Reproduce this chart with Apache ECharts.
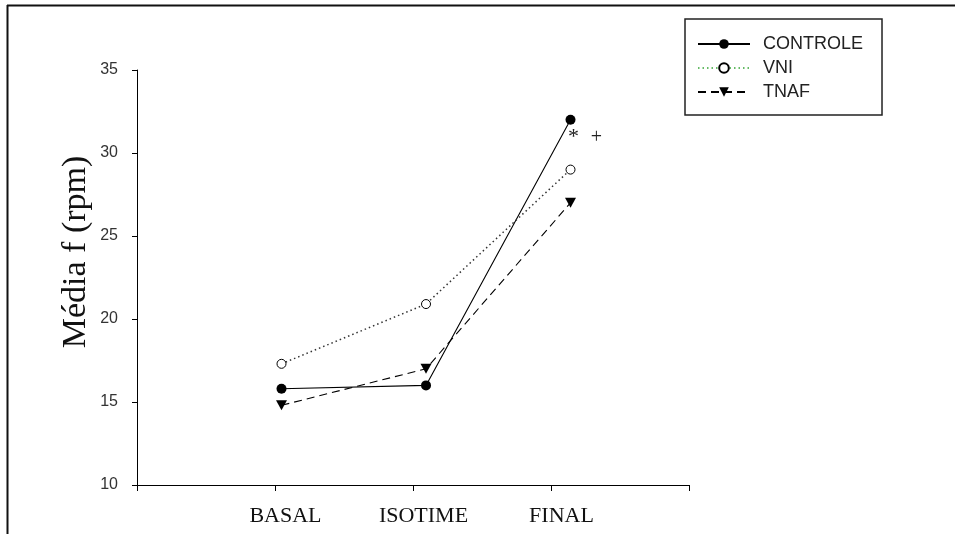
<!DOCTYPE html>
<html>
<head>
<meta charset="utf-8">
<script src="https://cdn.jsdelivr.net/npm/echarts@6/dist/echarts.min.js"></script>
<style>html,body{margin:0;padding:0;background:#fff;}#c{width:955px;height:534px;}</style>
</head>
<body>
<div id="c"></div>
<script>
var categories = ['BASAL', 'ISOTIME', 'FINAL'];
var controle = [15.8, 16.0, 32.0];
var vni = [17.3, 20.9, 29.0];
var tnaf = [14.8, 17.0, 27.0];
var yTicks = [10, 15, 20, 25, 30, 35];
// [category, value, text, dx, dy, fontSize]
var annotations = [['FINAL', 31.2, '*', 3, 4, 22], ['FINAL', 30.9, '+', 26, 0, 20]];

var axisCats = [''].concat(categories, ['']);
function toPoints(arr) { return arr.map(function (v, i) { return [i + 1, v]; }); }

var chart = echarts.init(document.getElementById('c'), null, {renderer: 'canvas'});
var serif = '"Liberation Serif", "Times New Roman", serif';
var sans = '"Liberation Sans", Arial, sans-serif';

chart.setOption({
  animation: false,
  backgroundColor: '#fff',
  grid: {left: 137, top: 70, right: 266, bottom: 49, containLabel: false},
  xAxis: [{
    type: 'category',
    data: axisCats,
    boundaryGap: false,
    axisLine: {lineStyle: {color: '#000', width: 1}},
    axisTick: {show: true, length: 6, lineStyle: {color: '#000'}},
    axisLabel: {
      fontFamily: serif, fontSize: 22, color: '#111', margin: 20,
      padding: [0, 0, 0, 21], interval: 0
    },
    splitLine: {show: false}
  }, {
    type: 'value',
    min: 0, max: 3.82,
    show: false,
    splitLine: {show: false}
  }],
  yAxis: {
    type: 'value',
    min: yTicks[0], max: yTicks[yTicks.length - 1], interval: 5,
    axisLine: {show: true, lineStyle: {color: '#000', width: 1}},
    axisTick: {show: true, length: 5, lineStyle: {color: '#000'}},
    axisLabel: {fontFamily: sans, fontSize: 16, color: '#333', margin: 19},
    splitLine: {show: false}
  },
  legend: {
    orient: 'vertical',
    left: 685, top: 19,
    padding: [16, 19, 14, 12],
    borderColor: '#222', borderWidth: 1.5,
    itemWidth: 52, itemHeight: 12, itemGap: 6,
    textStyle: {fontFamily: sans, fontSize: 18, color: '#222', lineHeight: 18, padding: [0, 0, 0, 8]},
    data: [
      {name: 'CONTROLE'},
      {name: 'VNI', lineStyle: {color: '#66bb66'}},
      {name: 'TNAF'}
    ]
  },
  graphic: [
    {type: 'line', shape: {x1: 7, y1: 5.5, x2: 955, y2: 5.5}, style: {stroke: '#111', lineWidth: 2}, silent: true},
    {type: 'line', shape: {x1: 7.5, y1: 5, x2: 7.5, y2: 534}, style: {stroke: '#111', lineWidth: 2}, silent: true},
    {type: 'text', x: 76, y: 252, rotation: Math.PI / 2,
      style: {text: 'Média f (rpm)', font: '34px ' + serif, fill: '#111', align: 'center', verticalAlign: 'middle'}}
  ],
  series: [
    {
      name: 'CONTROLE', type: 'line', xAxisIndex: 1, data: toPoints(controle),
      symbol: 'circle', symbolSize: 10,
      itemStyle: {color: '#000'},
      lineStyle: {color: '#000', width: 1.1, type: 'solid'},
      markPoint: {
        symbol: 'circle', symbolSize: 1,
        itemStyle: {color: 'rgba(0,0,0,0)'},
        label: {show: true, position: 'inside', fontFamily: serif, color: '#222'},
        data: annotations.map(function (a) {
          return {coord: [categories.indexOf(a[0]) + 1, a[1]],
            label: {formatter: a[2], offset: [a[3], a[4]], fontSize: a[5]}};
        })
      }
    },
    {
      name: 'VNI', type: 'line', xAxisIndex: 1, data: toPoints(vni),
      symbol: 'circle', symbolSize: 9,
      itemStyle: {color: '#fff', borderColor: '#000', borderWidth: 1},
      lineStyle: {color: '#333', width: 1.5, type: [1.5, 3]}
    },
    {
      name: 'TNAF', type: 'line', xAxisIndex: 1, data: toPoints(tnaf),
      symbol: 'triangle', symbolRotate: 180, symbolSize: [11, 10],
      itemStyle: {color: '#000'},
      lineStyle: {color: '#000', width: 1.1, type: [8, 5]}
    }
  ]
});
</script>
</body>
</html>
